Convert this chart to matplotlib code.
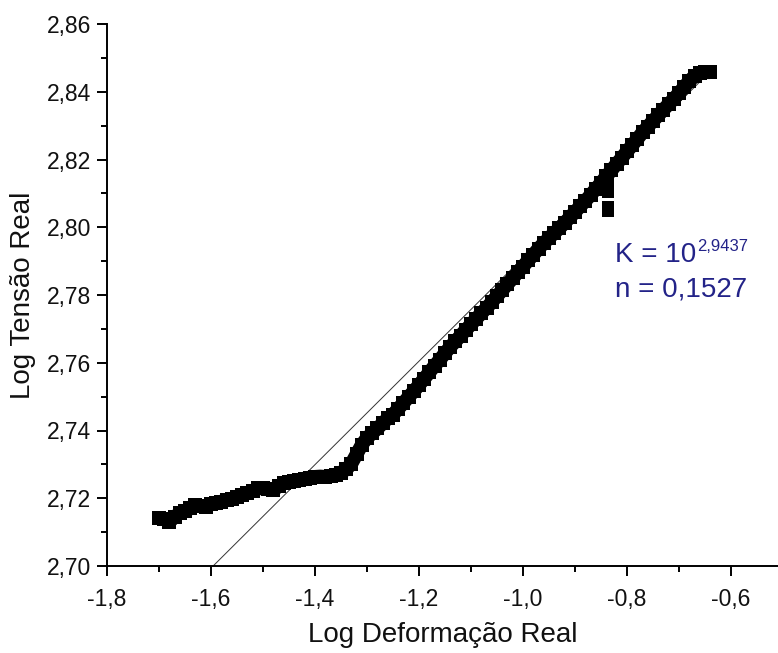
import matplotlib
matplotlib.use("Agg")
import matplotlib.pyplot as plt
from matplotlib.ticker import FixedLocator, FixedFormatter

plt.rcParams['font.family'] = ['Liberation Sans', 'DejaVu Sans']

# ---- data ----
log_strain = [
    -1.70, -1.69, -1.68, -1.67, -1.66, -1.65, -1.64, -1.63, -1.62, -1.61,
    -1.60, -1.59, -1.58, -1.57, -1.56, -1.55, -1.54, -1.53, -1.52, -1.51,
    -1.50, -1.49, -1.48, -1.47, -1.46, -1.45, -1.44, -1.43, -1.42, -1.41,
    -1.40, -1.39, -1.38, -1.37, -1.36, -1.35, -1.34, -1.33, -1.32, -1.31,
    -1.30, -1.29, -1.28, -1.27, -1.26, -1.25, -1.24, -1.23, -1.22, -1.21,
    -1.20, -1.19, -1.18, -1.17, -1.16, -1.15, -1.14, -1.13, -1.12, -1.11,
    -1.10, -1.09, -1.08, -1.07, -1.06, -1.05, -1.04, -1.03, -1.02, -1.01,
    -1.00, -0.99, -0.98, -0.97, -0.96, -0.95, -0.94, -0.93, -0.92, -0.91,
    -0.90, -0.89, -0.88, -0.87, -0.86, -0.85, -0.84, -0.83, -0.82, -0.81,
    -0.80, -0.79, -0.78, -0.77, -0.76, -0.75, -0.74, -0.73, -0.72, -0.71,
    -0.70, -0.69, -0.68, -0.67, -0.66, -0.65, -0.64,
]
log_stress = [
    2.7142, 2.7138, 2.7130, 2.7145, 2.7156, 2.7162, 2.7170, 2.7180, 2.7176, 2.7174,
    2.7182, 2.7187, 2.7190, 2.7195, 2.7198, 2.7205, 2.7211, 2.7215, 2.7222, 2.7229,
    2.7230, 2.7226, 2.7225, 2.7235, 2.7245, 2.7249, 2.7251, 2.7254, 2.7258, 2.7261,
    2.7263, 2.7264, 2.7263, 2.7265, 2.7270, 2.7276, 2.7285, 2.7302, 2.7330, 2.7358,
    2.7378, 2.7392, 2.7406, 2.7421, 2.7436, 2.7447, 2.7464, 2.7481, 2.7499, 2.7516,
    2.7534, 2.7553, 2.7572, 2.7591, 2.7609, 2.7628, 2.7647, 2.7663, 2.7680, 2.7697,
    2.7713, 2.7730, 2.7746, 2.7762, 2.7779, 2.7797, 2.7814, 2.7832, 2.7849, 2.7867,
    2.7884, 2.7902, 2.7919, 2.7937, 2.7953, 2.7968, 2.7983, 2.7997, 2.8013, 2.8029,
    2.8045, 2.8062, 2.8078, 2.8095, 2.8113, 2.8131, 2.8150, 2.8168, 2.8187, 2.8205,
    2.8224, 2.8242, 2.8261, 2.8280, 2.8297, 2.8314, 2.8330, 2.8347, 2.8363, 2.8379,
    2.8396, 2.8414, 2.8432, 2.8446, 2.8455, 2.8458, 2.8458,
]
# isolated drop-out points near log strain -0.84
outlier_strain = [-0.836, -0.836, -0.836, -0.836]
outlier_stress = [2.8137, 2.8103, 2.8061, 2.8048]

# fitted Hollomon parameters shown on the chart
log_K = 2.9437
n_exp = 0.1527
fit_x = [-1.62, -0.64]
fit_y = [log_K + n_exp * v for v in fit_x]

x_ticks = [-1.8, -1.6, -1.4, -1.2, -1.0, -0.8, -0.6]
x_labels = ['-1,8', '-1,6', '-1,4', '-1,2', '-1,0', '-0,8', '-0,6']
x_minor = [-1.7, -1.5, -1.3, -1.1, -0.9, -0.7, -0.5]
y_ticks = [2.70, 2.72, 2.74, 2.76, 2.78, 2.80, 2.82, 2.84, 2.86]
y_labels = ['2,70', '2,72', '2,74', '2,76', '2,78', '2,80', '2,82', '2,84', '2,86']
y_minor = [2.71, 2.73, 2.75, 2.77, 2.79, 2.81, 2.83, 2.85]

# ---- figure ----
fig = plt.figure(figsize=(7.78, 6.53), dpi=100)
ax = fig.add_axes([107 / 778, 87 / 653, 671 / 778, 542 / 653])

ax.plot(fit_x, fit_y, color='#333333', lw=0.7, zorder=2)
# dense measured points: squares merged into a continuous band
ax.plot(log_strain, log_stress, ls='-', lw=10.0, color='black',
        solid_joinstyle='round', solid_capstyle='butt',
        marker='s', ms=10.5, mfc='black', mec='black', mew=0, zorder=3)
ax.plot(outlier_strain, outlier_stress, ls='none', marker='s', ms=8.0,
        mfc='black', mec='black', mew=0, zorder=3)

ax.set_xlim(-1.8, -0.5096)
ax.set_ylim(2.70, 2.86)

ax.xaxis.set_major_locator(FixedLocator(x_ticks))
ax.xaxis.set_major_formatter(FixedFormatter(x_labels))
ax.xaxis.set_minor_locator(FixedLocator(x_minor))
ax.yaxis.set_major_locator(FixedLocator(y_ticks))
ax.yaxis.set_major_formatter(FixedFormatter(y_labels))
ax.yaxis.set_minor_locator(FixedLocator(y_minor))

for s in ['top', 'right']:
    ax.spines[s].set_visible(False)
for s in ['left', 'bottom']:
    ax.spines[s].set_linewidth(1.4)

ax.tick_params(which='major', direction='out', length=7.5, width=1.4,
               labelsize=16.5, color='black', labelcolor='#111111')
ax.tick_params(axis='y', which='major', pad=4)
ax.tick_params(axis='x', which='major', pad=8)
ax.tick_params(which='minor', direction='out', length=4.5, width=1.4)

ax.set_xlabel('Log Deformação Real', fontsize=20, labelpad=8, color='#111111')
ax.set_ylabel('Log Tensão Real', fontsize=20, labelpad=8, color='#111111')

txt_color = '#232388'
k_txt = ax.annotate('K = 10', xy=(615, 653 - 262), xycoords='figure pixels',
                    fontsize=20, color=txt_color, ha='left', va='baseline')
ax.annotate('n = 0,1527', xy=(615, 653 - 297), xycoords='figure pixels',
            fontsize=20, color=txt_color, ha='left', va='baseline')

fig.canvas.draw()
bb = k_txt.get_window_extent(renderer=fig.canvas.get_renderer())
ax.annotate('2,9437', xy=(bb.x1 + 1, 653 - 251), xycoords='figure pixels',
            fontsize=12, color=txt_color, ha='left', va='baseline')

fig.savefig('out.png', dpi=100)
